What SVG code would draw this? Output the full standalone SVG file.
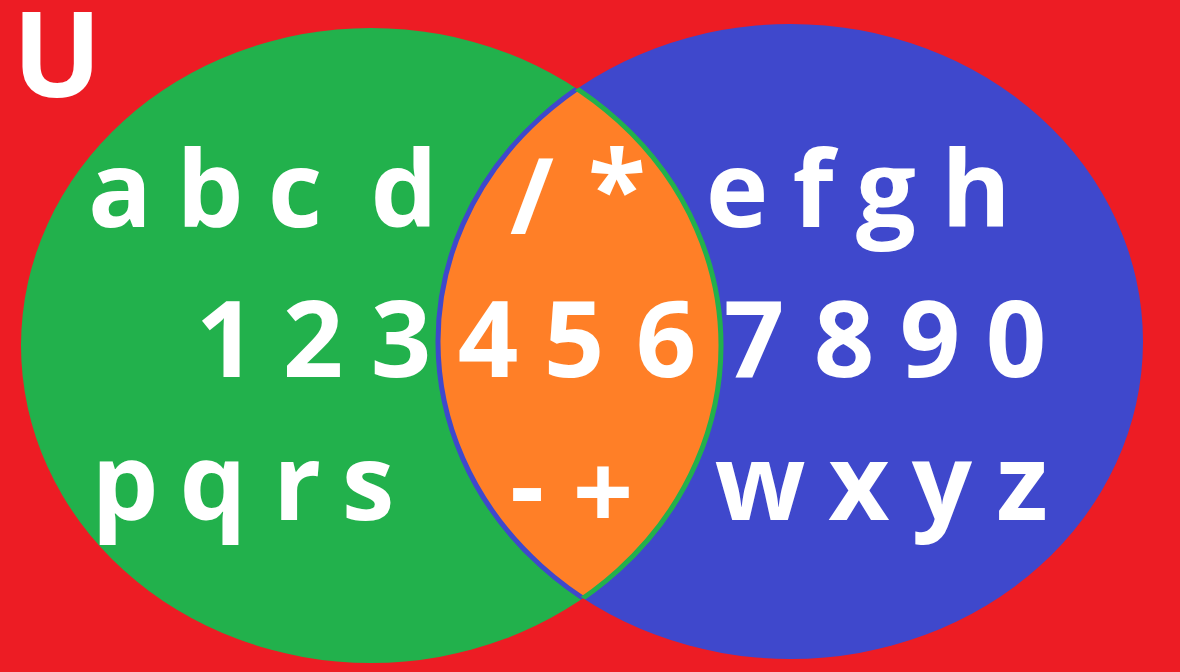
<svg xmlns="http://www.w3.org/2000/svg" width="1180" height="672" viewBox="0 0 1180 672">
  <style>
    .lbl { font-family: "Open Sans", "Noto Sans", "Liberation Sans", sans-serif; font-weight: 700; font-size: 106px; fill: #FFFFFF; text-anchor: middle; }
    .u { font-size: 118px; }
  </style>
  <defs>
    <clipPath id="clipA"><ellipse cx="371" cy="345.5" rx="350" ry="317.5"/></clipPath>
    <clipPath id="clipB"><ellipse cx="790.5" cy="341.5" rx="352.5" ry="317.5"/></clipPath>
  </defs>
  <g id="universe">
    <rect x="0" y="0" width="1180" height="672" fill="#ED1C24"/>
    <text class="lbl u" x="57" y="97">U</text>
  </g>
  <g id="set-A">
    <ellipse cx="371" cy="345.5" rx="350" ry="317.5" fill="#22B14C"/>
  </g>
  <g id="set-B">
    <ellipse cx="790.5" cy="341.5" rx="352.5" ry="317.5" fill="#3F48CC"/>
  </g>
  <g id="intersection">
    <ellipse cx="371" cy="345.5" rx="350" ry="317.5" fill="#FF7F27" clip-path="url(#clipB)"/>
    <ellipse cx="790.5" cy="341.5" rx="352.5" ry="317.5" fill="none" stroke="#3F48CC" stroke-width="5" clip-path="url(#clipA)"/>
    <ellipse cx="371" cy="345.5" rx="350" ry="317.5" fill="none" stroke="#22B14C" stroke-width="5" clip-path="url(#clipB)"/>
  </g>
  <g id="labels-A">
    <text class="lbl" x="120 165 210 252 295 350 404" y="227">a b c d</text>
    <text class="lbl" x="226 270 313 357 401" y="377">1 2 3</text>
    <text class="lbl" x="125 169 213 255 297 333 368" y="520">p q r s</text>
  </g>
  <g id="labels-AB">
    <text class="lbl" x="532 575 617" y="234 227 227">/ *</text>
    <text class="lbl" x="488 531 574 620 666" y="377">4 5 6</text>
    <text class="lbl" x="527 565 603" y="523 523 530">- +</text>
  </g>
  <g id="labels-B">
    <text class="lbl" x="737 775 813 850 886 931 976" y="227">e f g h</text>
    <text class="lbl" x="754 799 844 887 930 973 1016" y="377">7 8 9 0</text>
    <text class="lbl" x="760 810 859 900 942 982 1022" y="520">w x y z</text>
  </g>
  <g id="connectors"/>
</svg>
